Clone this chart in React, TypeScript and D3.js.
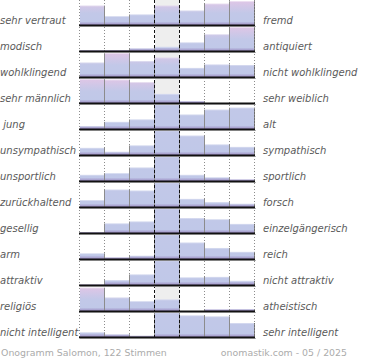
import React from "react";
import * as d3 from "d3";

// left / right adjectives of each onogramm row
const leftLabels = [
  "sehr vertraut", "modisch", "wohlklingend", "sehr männlich", " jung",
  "unsympathisch", "unsportlich", "zurückhaltend", "gesellig", "arm",
  "attraktiv", "religiös", "nicht intelligent",
];
const rightLabels = [
  "fremd", "antiquiert", "nicht wohlklingend", "sehr weiblich", "alt",
  "sympathisch", "sportlich", "forsch", "einzelgängerisch", "reich",
  "nicht attraktiv", "atheistisch", "sehr intelligent",
];
// seven answer columns per row, relative height (100 = full row); centre column can overflow
const votes = [
  [79, 36, 43, 79, 59, 87, 97],
  [4, 4, 11, 17, 35, 68, 97],
  [59, 97, 65, 79, 37, 51, 49],
  [97, 95, 85, 37, 8, 0, 0],
  [12, 29, 39, 200, 59, 79, 87],
  [29, 13, 39, 200, 79, 43, 33],
  [25, 32, 55, 200, 25, 15, 7],
  [28, 71, 67, 200, 33, 20, 13],
  [4, 39, 47, 200, 61, 56, 37],
  [23, 7, 13, 200, 67, 45, 29],
  [2, 20, 43, 200, 31, 33, 17],
  [95, 55, 40, 47, 0, 7, 8],
  [19, 11, 5, 200, 88, 84, 57],
];
const footerLeft = "Onogramm Salomon, 122 Stimmen";
const footerRight = "onomastik.com - 05 / 2025";

const W = 370;
const H = 360;
const rowStep = 26;
const firstBase = 25;
const cols = d3.range(7);

const x = d3.scaleBand<number>().domain(cols).range([80, 255]).padding(0);
const yRaw = d3.scaleLinear().domain([0, 100]).range([0, 24.5]);
const yCl = d3.scaleLinear().domain([0, 100]).range([0, 24.5]).clamp(true);

const fontFam = "'DejaVu Sans', Verdana, sans-serif";

export default function App() {
  const bw = x.bandwidth();
  const lastBase = firstBase + rowStep * (votes.length - 1);

  return (
    <svg
      width={W}
      height={H}
      style={{ position: "absolute", left: 0, top: 0, background: "#fff" }}
    >
      <defs>
        {votes.map((row, i) => {
          const base = firstBase + i * rowStep;
          const top = yRaw(d3.max(row) as number);
          return (
            <linearGradient
              key={i}
              id={"g" + i}
              gradientUnits="userSpaceOnUse"
              x1={0}
              x2={0}
              y1={base}
              y2={base - top}
            >
              <stop offset={0} stopColor="#9c8cc2" />
              <stop offset={Math.min(0.4, 3.5 / top)} stopColor="#c0c8e8" />
              <stop offset={0.5} stopColor="#c2c8e8" />
              <stop offset={1} stopColor="#dec6e6" />
            </linearGradient>
          );
        })}
      </defs>

      {/* neutral column background */}
      <rect x={x(3)} y={0} width={bw} height={lastBase} fill="#eeeeee" />

      {votes.map((row, i) => {
        const base = firstBase + i * rowStep;
        return (
          <g key={i}>
            {row.map((v, c) => {
              const h = yCl(v);
              if (h <= 0) return null;
              return (
                <g key={c}>
                  <rect x={x(c)} y={base - h} width={bw} height={h} fill={`url(#g${i})`} />
                  <rect x={x(c)} y={base - h} width={bw} height={0.8} fill="#ffffff" opacity={0.35} />
                  {c > 0 && (
                    <line x1={(x(c) as number) - 0.5} x2={(x(c) as number) - 0.5} y1={base - h} y2={base} stroke="#8c8c8c" />
                  )}
                  <line
                    x1={(x(c) as number) + bw - 0.5}
                    x2={(x(c) as number) + bw - 0.5}
                    y1={base - h}
                    y2={base + (c === 6 ? 2 : 0)}
                    stroke={c === 6 ? "#6e6e6e" : "#8c8c8c"}
                  />
                </g>
              );
            })}
          </g>
        );
      })}

      {/* grid */}
      {d3.range(8).map((k) => {
        const gx = 80 + k * bw - 0.5;
        const centre = k === 3 || k === 4;
        return (
          <line
            key={k}
            x1={gx}
            x2={gx}
            y1={0}
            y2={lastBase}
            stroke={centre ? "#111" : "#8c8c8c"}
            strokeDasharray={centre ? "3,2" : "1,2"}
          />
        );
      })}

      {votes.map((_, i) => {
        const base = firstBase + i * rowStep;
        return (
          <g key={"b" + i}>
            <rect x={80} y={base + 1} width={176} height={1} fill="#b4b4b4" />
            <rect x={79} y={base - 0.5} width={176} height={1.8} fill="#111" />
            <text x={0} y={base - 1.5} fontFamily={fontFam} fontStyle="italic" fontSize={10} fill="#5a5a5a" style={{ whiteSpace: "pre" }}>
              {leftLabels[i]}
            </text>
            <text x={263} y={base - 1.5} fontFamily={fontFam} fontStyle="italic" fontSize={10} fill="#5a5a5a">
              {rightLabels[i]}
            </text>
          </g>
        );
      })}

      <text x={1} y={355.5} fontFamily={fontFam} fontSize={9.4} fill="#ababab">
        {footerLeft}
      </text>
      <text x={347} y={355.5} textAnchor="end" fontFamily={fontFam} fontSize={9.4} fill="#ababab">
        {footerRight}
      </text>
    </svg>
  );
}
